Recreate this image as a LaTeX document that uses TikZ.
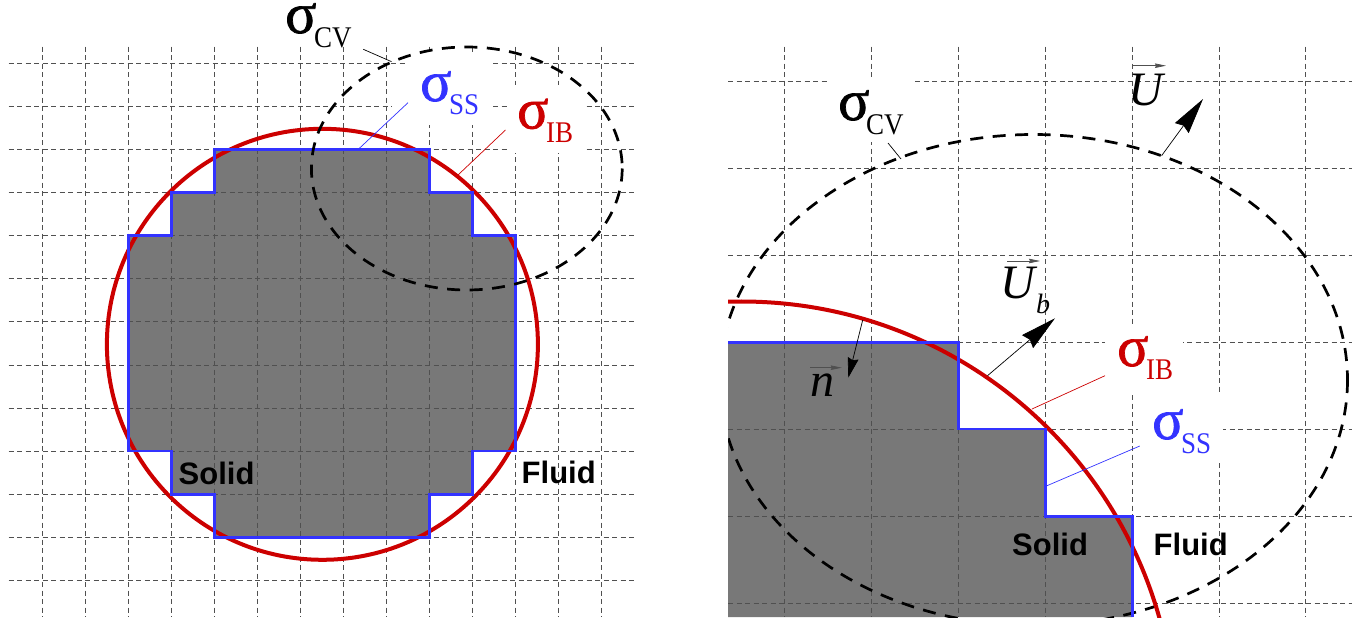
\documentclass[tikz,border=0pt]{standalone}
\usepackage{fontspec}
\setmainfont{Liberation Serif}
\setsansfont{Liberation Sans}
\newfontfamily\symfont[FakeBold=1.2]{Liberation Serif}
\usetikzlibrary{arrows.meta}
\definecolor{solidgray}{RGB}{120,120,120}
\definecolor{ibred}{RGB}{204,0,0}
\definecolor{ssblue}{RGB}{51,51,255}
\definecolor{gridgray}{RGB}{80,80,80}
\tikzset{
 gridline/.style={draw=gridgray,line width=0.9pt,dash pattern=on 5pt off 3.5pt},
 stairs/.style={draw=ssblue,line width=2.9pt,line join=miter},
 solidfill/.style={fill=solidgray,draw=none},
 ibcurve/.style={draw=ibred,line width=4pt},
 cvcurve/.style={draw=black,line width=2.7pt,dash pattern=on 13pt off 9.5pt},
 sym/.style={inner sep=0pt,anchor=base west,font=\fontsize{58}{58}\symfont\selectfont},
 subs/.style={inner sep=0pt,anchor=base west,font=\fontsize{30}{30}\selectfont,transform shape,xscale=0.9},
 vecsym/.style={inner sep=0pt,anchor=base west,font=\fontsize{48}{48}\selectfont\itshape},
 word/.style={inner sep=0pt,anchor=base west,font=\fontsize{31}{31}\selectfont\sffamily\bfseries},
 mask/.style={fill=white,draw=none},
 leader/.style={line width=0.7pt},
 bigarrow/.style={line width=0.7pt,-{Stealth[length=36pt,width=17pt,inset=3pt]}},
 smallarrow/.style={line width=0.7pt,-{Stealth[length=20pt,width=11pt,inset=2pt]}},
 overarrow/.style={draw=gridgray,line width=0.7pt,-{Stealth[length=11pt,width=4.5pt,inset=1pt]}},
}
\begin{document}
\begin{tikzpicture}[x=1pt,y=-1pt]
\useasboundingbox (0,0) rectangle (1366,620);
% ---- left panel
\path[solidfill] (128.3,235.7) -- (171.4,235.7) -- (171.4,192.7) -- (214.4,192.7) -- (214.4,149.7) -- (429.4,149.7) -- (429.4,192.7) -- (472.5,192.7) -- (472.5,235.7) -- (515.6,235.7) -- (515.6,451) -- (472.5,451) -- (472.5,494.3) -- (429.4,494.3) -- (429.4,537.3) -- (214.4,537.3) -- (214.4,494.3) -- (171.4,494.3) -- (171.4,451) -- (128.3,451) -- cycle;
\foreach \x in {42.2,85.3,128.3,171.4,214.4,257.4,300.4,343.3,386.4,429.4,472.5,515.6,558.6,601.7}
  \draw[gridline] (\x,46.7) -- (\x,617);
\foreach \y in {63,106.3,149.7,192.7,235.7,278.7,321.7,365,408,451,494.3,537.3,580.7}
  \draw[gridline] (8.7,\y) -- (633.5,\y);
% label masks left
\path[mask] (408,55) rectangle (490,125);
\path[mask] (392,100) rectangle (408,112);
\path[mask] (507,85) rectangle (585,153);
\draw[ibcurve] (322.4,344.3) circle[radius=215.5];
\draw[stairs] (128.3,235.7) -- (171.4,235.7) -- (171.4,192.7) -- (214.4,192.7) -- (214.4,149.7) -- (429.4,149.7) -- (429.4,192.7) -- (472.5,192.7) -- (472.5,235.7) -- (515.6,235.7) -- (515.6,451) -- (472.5,451) -- (472.5,494.3) -- (429.4,494.3) -- (429.4,537.3) -- (214.4,537.3) -- (214.4,494.3) -- (171.4,494.3) -- (171.4,451) -- (128.3,451) -- cycle;
\draw[cvcurve] (466.8,168.5) ellipse[x radius=155.4,y radius=121.5];
\coordinate (cvL) at (363.3,49.3);
\coordinate (cvLe) at (391.6,61.7);
\draw[leader] (cvL) -- (cvLe);
\coordinate (ssL) at (408,102.7);
\coordinate (ssLe) at (356.8,150.7);
\draw[leader,ssblue] (ssL) -- (ssLe);
\coordinate (ibL) at (505.5,130);
\coordinate (ibLe) at (458,175);
\draw[leader,ibred] (ibL) -- (ibLe);
\node[sym] (lcvs) at (285,33) {σ};
\node[subs] (lcvt) at (314,48) {CV};
\node[sym,text=ssblue] (lsss) at (420,101) {σ};
\node[subs,text=ssblue] (lsst) at (449,114.5) {SS};
\node[sym,text=ibred] (libs) at (517,128.5) {σ};
\node[subs,text=ibred] (libt) at (546,142.5) {IB};
\node[word] (lsolid) at (178.5,484.5) {Solid};
\node[word] (lfluid) at (521.5,483.5) {Fluid};
% ---- right panel
\path[solidfill] (728,342.3) -- (958.6,342.3) -- (958.6,429) -- (1045.3,429) -- (1045.3,516.3) -- (1132.3,516.3) -- (1132.3,617) -- (728,617) -- cycle;
\foreach \x in {784.8,871.8,958.6,1045.3,1132.3,1219.3,1305.8}
  \draw[gridline] (\x,46.7) -- (\x,617);
\foreach \y in {81,168,255.3,342.3,429,516.3,603.7}
  \draw[gridline] (728,\y) -- (1352,\y);
% label masks right
\path[mask] (827,77) rectangle (915,142);
\path[mask] (1105,325) rectangle (1183,392);
\path[mask] (1138,395) rectangle (1223,462);
\begin{scope}
\clip (728,40) rectangle (1366,617);
\draw[cvcurve] (1033.5,380) ellipse[x radius=314,y radius=245.5];
\draw[ibcurve] (741.5,735.5) circle[radius=434];
\end{scope}
\draw[stairs] (728,342.3) -- (958.6,342.3) -- (958.6,429) -- (1045.3,429) -- (1045.3,516.3) -- (1132.3,516.3) -- (1132.3,617);
\coordinate (rcvL) at (888,143);
\coordinate (rcvLe) at (901,159);
\draw[leader] (rcvL) -- (rcvLe);
\coordinate (ubase) at (1161.6,155.7);
\coordinate (utip) at (1203,99);
\draw[bigarrow] (ubase) -- (utip);
\coordinate (ubbase) at (987.5,375.7);
\coordinate (ubtip) at (1055,318.3);
\draw[bigarrow] (ubbase) -- (ubtip);
\coordinate (nbase) at (862.7,320);
\coordinate (ntip) at (848.3,377.7);
\draw[smallarrow] (nbase) -- (ntip);
\coordinate (ribL) at (1105,375.7);
\coordinate (ribLe) at (1032,409);
\draw[leader,ibred] (ribL) -- (ribLe);
\coordinate (rssL) at (1139.8,446);
\coordinate (rssLe) at (1046.3,486);
\draw[leader,ssblue] (rssL) -- (rssLe);
\node[sym] (rcvs) at (838,120) {σ};
\node[subs] (rcvt) at (866,134.5) {CV};
\node[sym,text=ibred] (ribs) at (1117,366) {σ};
\node[subs,text=ibred] (ribt) at (1146,380) {IB};
\node[sym,text=ssblue] (rsss) at (1152,439) {σ};
\node[subs,text=ssblue] (rsst) at (1181,453) {SS};
\node[vecsym] (rU) at (1128,106) {U};
\coordinate (rUa) at (1133.3,65.7);
\coordinate (rUb) at (1166,65.7);
\draw[overarrow] (rUa) -- (rUb);
\node[vecsym] (rUb0) at (1000,299) {U};
\node[inner sep=0pt,anchor=base west,font=\fontsize{28}{28}\selectfont\itshape] (rUbs) at (1036,314) {b};
\coordinate (rUba) at (1007,261);
\coordinate (rUbb) at (1040,261);
\draw[overarrow] (rUba) -- (rUbb);
\node[vecsym] (rn) at (810,396) {n};
\coordinate (rna) at (810,367.7);
\coordinate (rnb) at (841.8,367.7);
\draw[overarrow] (rna) -- (rnb);
\node[word] (rsolid) at (1012,555.5) {Solid};
\node[word] (rfluid) at (1153.5,555.5) {Fluid};
\end{tikzpicture}
\end{document}
